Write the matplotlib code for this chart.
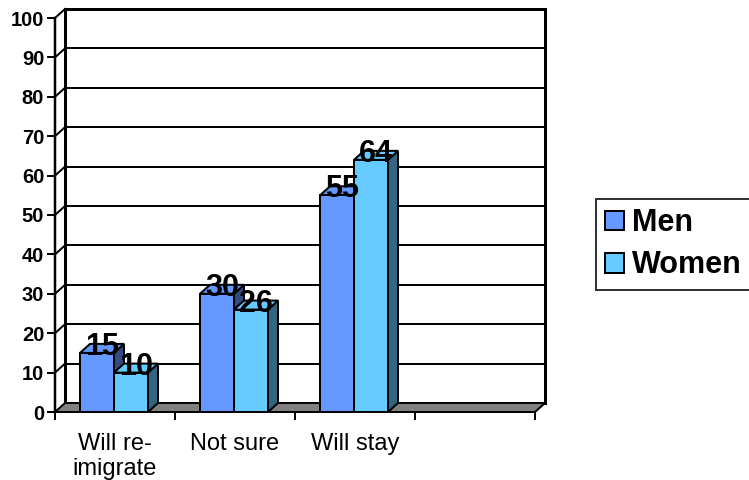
import matplotlib
matplotlib.use("Agg")
import matplotlib.pyplot as plt
from matplotlib.patches import Polygon, Rectangle
import numpy as np

plt.rcParams['font.family'] = ['Liberation Sans', 'DejaVu Sans']

# Data
categories = ["Will re-\nimigrate", "Not sure", "Will stay"]
n_slots = 4
series_names = ["Men", "Women"]
men = [15, 30, 55]
women = [10, 26, 64]
yticks = list(range(0, 101, 10))

men_color = "#6699FF"
men_side = "#334C80"
women_color = "#66CCFF"
women_side = "#336680"

W, H, DPI = 749, 480, 100
fig = plt.figure(figsize=(W / DPI, H / DPI), dpi=DPI)
fig.patch.set_facecolor("white")

# front plane of the plot box, in pixels
left_px, right_px, bottom_px, top_px = 55, 535, 412, 18
ax = fig.add_axes([left_px / W, (H - bottom_px) / H,
                   (right_px - left_px) / W, (bottom_px - top_px) / H])
ax.set_xlim(0, n_slots)
ax.set_ylim(0, 100)
ax.patch.set_visible(False)

# oblique depth offset (pixels -> data units)
depth_x_px, depth_y_px = 10, 9
DX = depth_x_px * n_slots / (right_px - left_px)
DY = depth_y_px * 100 / (bottom_px - top_px)

px = 0.72  # points per pixel at 100 dpi

# back wall
ax.add_patch(Rectangle((DX, DY), n_slots, 100, facecolor="white",
                       edgecolor="black", lw=3 * px, zorder=1, clip_on=False))
for v in yticks[1:-1]:
    ax.plot([DX, n_slots + DX], [v + DY, v + DY], color="black",
            lw=2 * px, zorder=1.1, clip_on=False)
# side wall gridlines
for v in yticks[1:]:
    ax.plot([0, DX], [v, v + DY], color="black", lw=2 * px,
            zorder=1.2, clip_on=False)
ax.plot([DX, DX], [DY, 100 + DY], color="black", lw=3 * px, zorder=1.3,
        clip_on=False)

# floor
ax.add_patch(Polygon([(0, 0), (n_slots, 0), (n_slots + DX, DY), (DX, DY)],
                     closed=True, facecolor="#808080", edgecolor="black",
                     lw=2 * px, zorder=2, clip_on=False))

# bars
gap = 25 / 120
bw = 34 / 120
x = np.arange(len(categories))
men_bars = ax.bar(x + gap, men, width=bw, align="edge", color=men_color,
                  edgecolor="black", lw=2 * px, zorder=3, clip_on=False,
                  label=series_names[0])
women_bars = ax.bar(x + gap + bw, women, width=bw, align="edge",
                    color=women_color, edgecolor="black", lw=2 * px,
                    zorder=3, clip_on=False, label=series_names[1])


def extrude(bar, side_color, top_color, z):
    x0 = bar.get_x()
    x1 = x0 + bar.get_width()
    h = bar.get_height()
    ax.add_patch(Polygon([(x1, 0), (x1 + DX, DY), (x1 + DX, h + DY), (x1, h)],
                         closed=True, facecolor=side_color, edgecolor="black",
                         lw=2 * px, zorder=z, clip_on=False))
    ax.add_patch(Polygon([(x0, h), (x1, h), (x1 + DX, h + DY), (x0 + DX, h + DY)],
                         closed=True, facecolor=top_color, edgecolor="black",
                         lw=2 * px, zorder=z, clip_on=False))
    bar.set_zorder(z + 0.01)


for i in range(len(categories)):
    extrude(men_bars[i], men_side, men_color, 3 + i)
    extrude(women_bars[i], women_side, women_color, 3.5 + i)

# value labels
for bars, vals in ((men_bars, men), (women_bars, women)):
    for bar, v in zip(bars, vals):
        ax.text(bar.get_x() + bar.get_width() / 2 + DX / 2, v - 0.5, f"{v}",
                ha="center", va="baseline", fontsize=22, fontweight="bold",
                color="black", zorder=10)

# axes, ticks, labels
for s in ("top", "right", "bottom"):
    ax.spines[s].set_visible(False)
ax.spines["left"].set_linewidth(2.5 * px)
ax.spines["left"].set_zorder(5)
ax.set_yticks(yticks)
ax.set_yticklabels([str(v) for v in yticks], fontsize=14.5, fontweight="bold")
ax.tick_params(axis="y", length=8 * px, width=2 * px, pad=2)
ax.set_xticks(range(n_slots + 1))
ax.set_xticklabels([])
ax.tick_params(axis="x", which="major", length=8 * px, width=2 * px,
               direction="out")
ax.set_xticks(x + 0.5, minor=True)
ax.set_xticklabels(categories, minor=True, fontsize=17)
ax.tick_params(axis="x", which="minor", length=0, pad=15)

leg = fig.legend(handles=[men_bars[0], women_bars[0]], labels=series_names,
                 loc="upper left", bbox_to_anchor=(596 / W, 1 - 199 / H),
                 borderaxespad=0, frameon=True, fancybox=False,
                 prop={"size": 22, "weight": "bold"},
                 handlelength=0.62, handleheight=0.62, handletextpad=0.25,
                 labelspacing=0.4, borderpad=0.3)
leg.get_frame().set_edgecolor("black")
leg.get_frame().set_linewidth(2 * px)

fig.savefig("out.png", dpi=DPI)
